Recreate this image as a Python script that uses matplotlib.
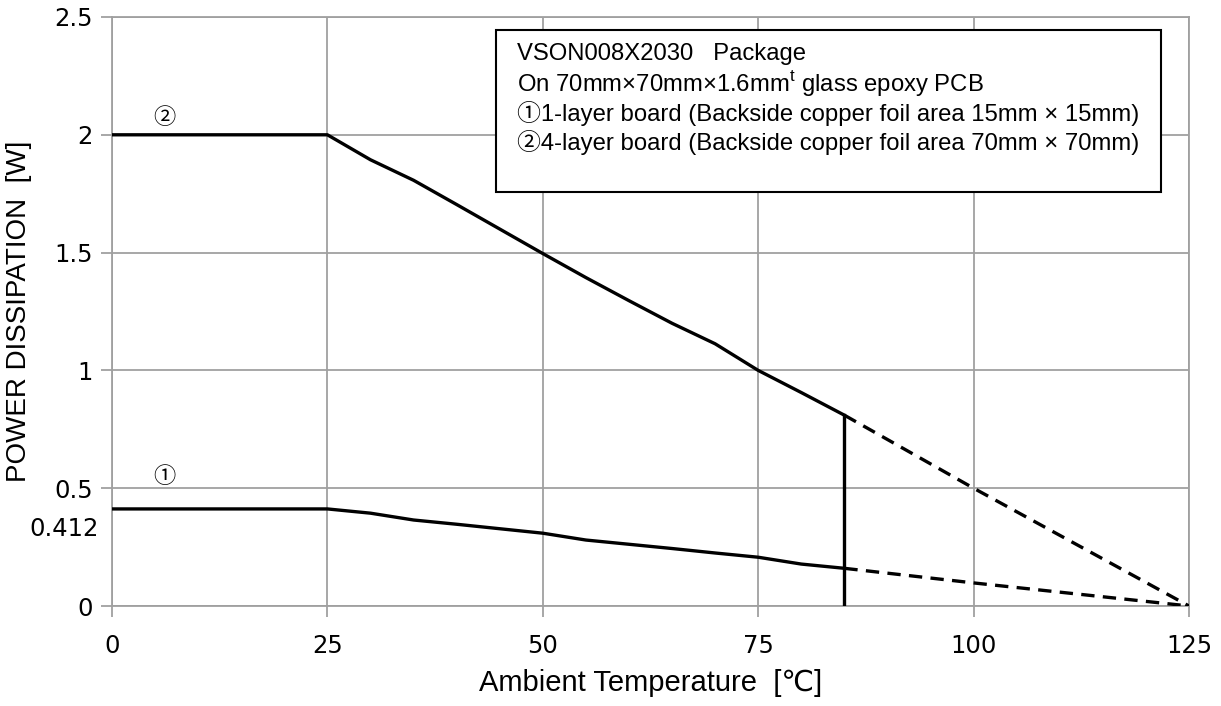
import matplotlib
matplotlib.use("Agg")
import matplotlib.pyplot as plt
from matplotlib.patches import Rectangle
from matplotlib.transforms import blended_transform_factory

# ---- data ----
temp_solid = [0, 25, 30, 35, 40, 45, 50, 55, 60, 65, 70, 75, 80, 85]
pd_4layer = [2.0, 2.0, 1.894, 1.807, 1.704, 1.60, 1.496, 1.394, 1.296, 1.20, 1.113, 1.0, 0.906, 0.81]
pd_1layer = [0.412, 0.412, 0.394, 0.365, 0.347, 0.328, 0.309, 0.280, 0.262, 0.244, 0.225, 0.207, 0.178, 0.160]
temp_dash = [85, 100, 125]
pd_4layer_dash = [0.81, 0.5, 0.0]
pd_1layer_dash = [0.160, 0.098, 0.0]
cutoff_temp = 85

x_ticks = [0, 25, 50, 75, 100, 125]
y_ticks = [0, 0.5, 1, 1.5, 2, 2.5]
y_tick_labels = ["0", "0.5", "1", "1.5", "2", "2.5"]
extra_label = "0.412"

box_lines = [
    "VSON008X2030   Package",
    "On 70mm\u00d770mm\u00d71.6mm$^{\\mathrm{t}}$ glass epoxy PCB",
    "\u24601-layer board (Backside copper foil area 15mm \u00d7 15mm)",
    "\u24614-layer board (Backside copper foil area 70mm \u00d7 70mm)",
]

plt.rcParams['mathtext.fontset'] = 'custom'
plt.rcParams['mathtext.rm'] = 'Liberation Sans'

GRID = "#a0a0a0"
fig = plt.figure(figsize=(12.21, 7.06), dpi=100)
ax = fig.add_axes([112/1221, 100/706, 1077/1221, 589/706])

ax.set_xlim(0, 125)
ax.set_ylim(0, 2.5)
ax.set_xticks(x_ticks)
ax.set_yticks(y_ticks)
ax.set_yticklabels(y_tick_labels)
ax.grid(True, color=GRID, linewidth=1.3)
ax.set_axisbelow(True)
for s in ax.spines.values():
    s.set_color(GRID)
    s.set_linewidth(1.3)
ax.tick_params(axis='both', direction='out', length=8, width=1.3, color=GRID,
               labelsize=17.5, labelcolor='black')
ax.tick_params(axis='x', pad=12)
ax.tick_params(axis='y', pad=6)
for lab in ax.get_xticklabels() + ax.get_yticklabels():
    lab.set_family('DejaVu Sans')

ax.plot(temp_solid, pd_4layer, color='black', lw=2.4, solid_capstyle='butt', zorder=3)
ax.plot(temp_solid, pd_1layer, color='black', lw=2.4, solid_capstyle='butt', zorder=3)
ax.plot(temp_dash, pd_4layer_dash, color='black', lw=2.4, ls=(0, (4, 2.5)), zorder=3)
ax.plot(temp_dash, pd_1layer_dash, color='black', lw=2.4, ls=(0, (4, 2.5)), zorder=3)
ax.plot([cutoff_temp, cutoff_temp], [0, pd_4layer[-1]], color='black', lw=2.4, zorder=3)

# extra y label 0.412
tr = blended_transform_factory(ax.transAxes, ax.transData)
ax.text(-0.012, pd_1layer[0] - 0.085, extra_label, transform=tr, ha='right', va='center',
        fontsize=17.5, family='DejaVu Sans', clip_on=False)

# curve markers
ax.text(6.1, 2.075, "\u2461", fontsize=16, ha='center', va='center',
        family=['Noto Sans CJK JP', 'DejaVu Sans'])
ax.text(6.1, 0.55, "\u2460", fontsize=16, ha='center', va='center',
        family=['Noto Sans CJK JP', 'DejaVu Sans'])

ax.set_xlabel("Ambient Temperature  [\u2103]", fontsize=21,
              family=['Liberation Sans', 'DejaVu Sans'], labelpad=8)
ax.set_ylabel("POWER DISSIPATION  [W]", fontsize=20,
              family=['Liberation Sans'])
ax.yaxis.set_label_coords(-0.0743, 0.50)

# info box
rect = Rectangle((0.3565, 0.703), 0.6175, 0.2755, transform=ax.transAxes,
                 facecolor='white', edgecolor='black', lw=1.5, zorder=4)
ax.add_patch(rect)
y0 = 0.938
for i, line in enumerate(box_lines):
    ax.text(0.376, y0 - i * 0.0505, line, transform=ax.transAxes, ha='left', va='center',
            fontsize=17.2, family=['Liberation Sans', 'Noto Sans CJK JP'], zorder=5)

fig.savefig("out.png", dpi=100)
